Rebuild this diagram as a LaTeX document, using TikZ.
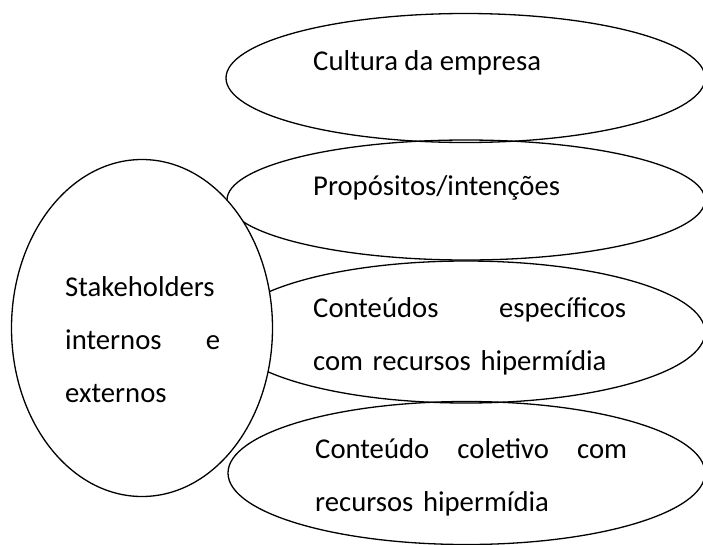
\documentclass[tikz,border=0pt]{standalone}
\usepackage{fontspec}
\setmainfont{Carlito}
\usetikzlibrary{shapes.geometric}

\begin{document}
\begin{tikzpicture}[x=1pt,y=-1pt,
    oval/.style={draw,ellipse,line width=1.3pt,inner sep=0pt},
    txt/.style={anchor=base west,inner sep=0pt,align=left,
      font=\fontsize{28.7}{53}\selectfont}]
  \useasboundingbox (0,0) rectangle (703,544);
  % ellipses on the right
  \node[oval,minimum width=479pt,minimum height=129pt] (Cu) at (465.5,78) {};
  \node[oval,minimum width=478pt,minimum height=120pt] (Pr) at (466,200) {};
  \node[oval,minimum width=478pt,minimum height=142pt] (Co) at (466,332) {};
  \node[oval,minimum width=477pt,minimum height=143pt] (Cl) at (466.5,473) {};
  % ellipse on the left
  \node[oval,fill=white,minimum width=261pt,minimum height=337pt] (St) at (142,328) {};
  % texts
  \node[txt] (tCu) at (313,70) {Cultura da empresa};
  \node[txt] (tPr) at (313,195) {Propósitos/intenções};
  \node[txt,text width=313pt] (tCo) at (313,317)
    {Conteúdos\hfill específicos\\com recursos hipermídia};
  \node[txt,text width=312pt] (tCl) at (315,458)
    {Conteúdo\hfill coletivo\hfill com\\recursos hipermídia};
  \node[txt,text width=155pt] (tSt) at (65,296)
    {Stakeholders\\internos\hfill e\\externos};
\end{tikzpicture}
\end{document}
